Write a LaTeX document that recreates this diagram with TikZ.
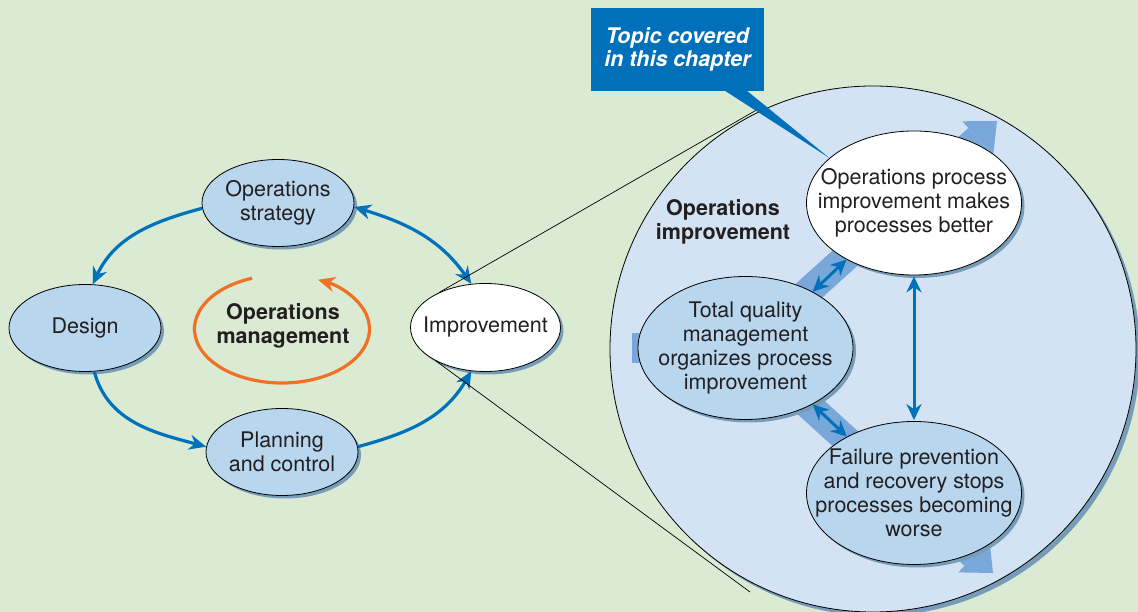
\documentclass[tikz,border=0pt]{standalone}
\usepackage{fontspec}
\setmainfont{TeX Gyre Heros}
\usetikzlibrary{shapes.geometric,shadows,arrows.meta,calc}
\definecolor{bg}{RGB}{218,234,211}
\definecolor{circfill}{RGB}{211,227,243}
\definecolor{ellfill}{RGB}{184,214,238}
\definecolor{arrblue}{RGB}{0,114,188}
\definecolor{bandc}{RGB}{122,167,217}
\definecolor{orng}{RGB}{240,112,36}
\definecolor{callout}{RGB}{0,112,186}
\definecolor{shad}{RGB}{118,156,184}
\definecolor{txt}{RGB}{35,31,32}
\begin{document}
\begin{tikzpicture}[x=1pt,y=1pt,
  every node/.style={text=txt, align=center, font=\fontsize{21.5}{24}\selectfont},
  ell/.style={ellipse, draw=black, line width=0.8pt, fill=ellfill, inner sep=0pt,
    drop shadow={shadow xshift=3pt, shadow yshift=-3pt, fill=shad, opacity=1}},
  wellp/.style={ell, fill=white},
  boldtxt/.style={font=\fontsize{21.5}{24}\selectfont\bfseries},
  cyc/.style={draw=arrblue, line width=3.2pt, -{Stealth[length=17pt,width=15pt]}},
  cycdbl/.style={draw=arrblue, line width=3.2pt, {Stealth[length=17pt,width=15pt]}-{Stealth[length=17pt,width=15pt]}},
  dbl/.style={draw=arrblue, line width=3pt, {Stealth[length=16pt,width=15pt]}-{Stealth[length=16pt,width=15pt]}},
  zoomline/.style={draw=black, line width=0.7pt},
  bandline/.style={draw=bandc, line width=28pt}
]
\useasboundingbox (0,0) rectangle (1138,612);
\fill[bg] (0,0) rectangle (1138,612);

% big zoom circle
\node[circle, minimum size=526pt, inner sep=0pt, draw=black, line width=0.8pt, fill=circfill,
  drop shadow={shadow xshift=4pt, shadow yshift=-4pt, fill=shad, opacity=1}] (bigc) at (873,263) {};

% wide background arrows
\coordinate (tqmc) at (745.5,264);
\fill[bandc] (632,249) rectangle (746,279);
\draw[bandline] (tqmc) -- (977.7,473.6);
\fill[bandc] (997,491) -- (962.3,490.7) -- (993.1,456.5) -- cycle;
\draw[bandline] (tqmc) -- (973.8,56.6);
\fill[bandc] (993,39) -- (958.3,39.6) -- (989.3,73.6) -- cycle;

% inner ellipses
\node[wellp, minimum width=215pt, minimum height=144pt,
  label={center:Operations process\\improvement makes\\processes better}] (opsp) at (914,409) {};
\node[ell, minimum width=215pt, minimum height=143pt,
  label={center:Total quality\\management\\organizes process\\improvement}] (tqm) at (745.5,264) {};
\node[ell, minimum width=215pt, minimum height=143pt,
  label={center:Failure prevention\\and recovery stops\\processes becoming\\worse}] (fail) at (914,119) {};
\node[boldtxt] (opimp) at (723,390) {Operations\\improvement};

\draw[dbl] (tqm.40) -- (opsp.220);
\draw[dbl] (tqm.-40) -- (fail.140);
\draw[dbl, shorten <=1pt, shorten >=1pt] (opsp.south) -- (fail.north);

% left cycle
\node[ell, minimum width=152pt, minimum height=87pt,
  label={center:Operations\\strategy}] (strat) at (278,409) {};
\node[ell, minimum width=152pt, minimum height=87pt,
  label={center:Design}] (design) at (85,284) {};
\node[ell, minimum width=152pt, minimum height=87pt,
  label={center:Planning\\and control}] (plan) at (282,160) {};
\node[wellp, minimum width=150pt, minimum height=88pt,
  label={center:Improvement}] (imp) at (485.5,284.5) {};
\node[boldtxt] (opm) at (283,286) {Operations\\management};

\draw[cyc] (strat.184) to[out=195,in=65] (design.80);
\draw[cyc] (design.-78) to[out=-75,in=165] (plan.176);
\draw[cyc] (plan.4) to[out=15,in=240] (imp.252);
\draw[cycdbl] (strat.-3) to[out=-17,in=125] (imp.108);

\coordinate (orngc) at (282,283);
\draw[orng, line width=3.2pt, -{Stealth[length=17pt,width=15pt]}]
  (orngc) ++(110:87.5 and 54) arc[start angle=110, end angle=425.7, x radius=87.5, y radius=54];

% zoom lines
\coordinate (t1) at (760,504);
\coordinate (t2) at (750,20);
\draw[zoomline] (imp.143) -- (t1);
\draw[zoomline] (imp.214) -- (t2);

% callout
\node[fill=callout, minimum width=173pt, minimum height=83pt, inner sep=0pt, text=white,
  font=\fontsize{21.5}{23.5}\selectfont\bfseries\itshape] (topic) at (677.5,562.5)
  {Topic covered\\in this chapter};
\fill[callout] ($(topic.south west)+(134,0.5)$) -- ($(topic.south west)+(156,0.5)$) -- (opsp.152) -- cycle;
\end{tikzpicture}
\end{document}
